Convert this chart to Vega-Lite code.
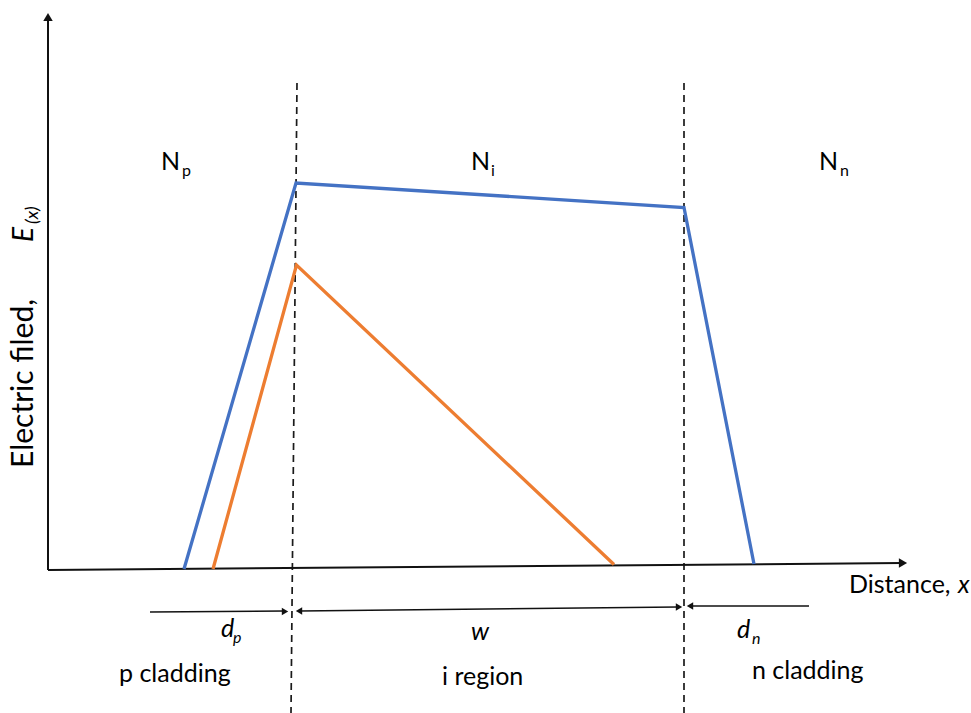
{
  "$schema": "https://vega.github.io/schema/vega-lite/v6.json",
  "width": 971,
  "height": 713,
  "padding": 0,
  "autosize": "none",
  "background": "white",
  "config": {"view": {"stroke": null}, "text": {"font": "Lato", "color": "black"}},
  "datasets": {
    "profiles": [
      {"curve": "high", "k": 0, "X": 136, "E": 1},
      {"curve": "high", "k": 1, "X": 248, "E": 387},
      {"curve": "high", "k": 2, "X": 636, "E": 362.5},
      {"curve": "high", "k": 3, "X": 706, "E": 6},
      {"curve": "low", "k": 0, "X": 165, "E": 1},
      {"curve": "low", "k": 1, "X": 248.5, "E": 305},
      {"curve": "low", "k": 2, "X": 566, "E": 5.5}
    ],
    "axes": [
      {"g": "distance", "k": 0, "X": 0, "E": 0},
      {"g": "distance", "k": 1, "X": 854, "E": 7},
      {"g": "field", "k": 0, "X": 0, "E": 0},
      {"g": "field", "k": 1, "X": 0, "E": 551}
    ],
    "spans": [
      {"g": "dp", "k": 0, "X": 102, "E": -42},
      {"g": "dp", "k": 1, "X": 236, "E": -41},
      {"g": "w", "k": 0, "X": 252, "E": -41},
      {"g": "w", "k": 1, "X": 630, "E": -37},
      {"g": "dn", "k": 0, "X": 642, "E": -36},
      {"g": "dn", "k": 1, "X": 761, "E": -36}
    ],
    "boundaries": [
      {"b": "p-i", "k": 0, "X": 249, "E": 487},
      {"b": "p-i", "k": 1, "X": 243, "E": -143},
      {"b": "i-n", "k": 0, "X": 636, "E": 487},
      {"b": "i-n", "k": 1, "X": 636, "E": -143}
    ],
    "heads": [
      {"X": 855, "E": 7, "dir": "right", "kind": "axis"},
      {"X": 0, "E": 553, "dir": "up", "kind": "axis"},
      {"X": 237, "E": -41.5, "dir": "right", "kind": "span"},
      {"X": 251, "E": -41, "dir": "left", "kind": "span"},
      {"X": 631, "E": -37, "dir": "right", "kind": "span"},
      {"X": 642, "E": -36, "dir": "left", "kind": "span"}
    ],
    "labels": [
      {"t": "N", "X": 113, "E": 400},
      {"t": "N", "X": 423, "E": 400},
      {"t": "N", "X": 771, "E": 400},
      {"t": "p cladding", "X": 71, "E": -112},
      {"t": "i region", "X": 394, "E": -115},
      {"t": "n cladding", "X": 704, "E": -109},
      {"t": "Distance,", "X": 801, "E": -23}
    ],
    "labelSubs": [
      {"t": "p", "X": 134, "E": 394},
      {"t": "i", "X": 443, "E": 394},
      {"t": "n", "X": 792, "E": 394}
    ],
    "symbols": [
      {"t": "d", "X": 173, "E": -67},
      {"t": "w", "X": 423, "E": -70},
      {"t": "d", "X": 689, "E": -68},
      {"t": "x", "X": 910, "E": -23}
    ],
    "symbolSubs": [
      {"t": "p", "X": 185, "E": -73},
      {"t": "n", "X": 704, "E": -74}
    ],
    "yTitle": [{"t": "Electric filed,", "X": -15, "E": 102}],
    "yTitleSymbol": [{"t": "E", "X": -15, "E": 328}],
    "yTitleSub": [{"t": "(x)", "X": -10, "E": 346}]
  },
  "encoding": {
    "x": {"field": "X", "type": "quantitative", "scale": {"domain": [-48, 923], "nice": false, "zero": false}, "axis": null},
    "y": {"field": "E", "type": "quantitative", "scale": {"domain": [-143, 570], "nice": false, "zero": false}, "axis": null}
  },
  "layer": [
    {
      "data": {"name": "boundaries"},
      "mark": {"type": "line", "color": "#1a1a1a", "strokeWidth": 1.7, "strokeDash": [7, 5]},
      "encoding": {"detail": {"field": "b"}, "order": {"field": "k"}}
    },
    {
      "data": {"name": "axes"},
      "mark": {"type": "line", "color": "#111111", "strokeWidth": 2},
      "encoding": {"detail": {"field": "g"}, "order": {"field": "k"}}
    },
    {
      "data": {"name": "spans"},
      "mark": {"type": "line", "color": "#111111", "strokeWidth": 1.5},
      "encoding": {"detail": {"field": "g"}, "order": {"field": "k"}}
    },
    {
      "data": {"name": "heads"},
      "mark": {"type": "point", "filled": true, "color": "#111111", "opacity": 1},
      "encoding": {
        "shape": {"field": "dir", "type": "nominal", "scale": {"domain": ["right", "left", "up"], "range": ["triangle-right", "triangle-left", "triangle-up"]}, "legend": null},
        "size": {"field": "kind", "type": "nominal", "scale": {"domain": ["axis", "span"], "range": [90, 55]}, "legend": null}
      }
    },
    {
      "data": {"name": "profiles"},
      "mark": {"type": "line", "strokeWidth": 3.3, "strokeJoin": "miter"},
      "encoding": {
        "color": {"field": "curve", "type": "nominal", "scale": {"domain": ["high", "low"], "range": ["#4472C4", "#ED7D31"]}, "legend": null},
        "order": {"field": "k"}
      }
    },
    {
      "data": {"name": "labels"},
      "mark": {"type": "text", "align": "left", "baseline": "alphabetic", "fontSize": 25},
      "encoding": {"text": {"field": "t"}}
    },
    {
      "data": {"name": "labelSubs"},
      "mark": {"type": "text", "align": "left", "baseline": "alphabetic", "fontSize": 16},
      "encoding": {"text": {"field": "t"}}
    },
    {
      "data": {"name": "symbols"},
      "mark": {"type": "text", "align": "left", "baseline": "alphabetic", "fontSize": 25, "fontStyle": "italic"},
      "encoding": {"text": {"field": "t"}}
    },
    {
      "data": {"name": "symbolSubs"},
      "mark": {"type": "text", "align": "left", "baseline": "alphabetic", "fontSize": 16, "fontStyle": "italic"},
      "encoding": {"text": {"field": "t"}}
    },
    {
      "data": {"name": "yTitle"},
      "mark": {"type": "text", "align": "left", "baseline": "alphabetic", "fontSize": 30, "angle": 270},
      "encoding": {"text": {"field": "t"}}
    },
    {
      "data": {"name": "yTitleSymbol"},
      "mark": {"type": "text", "align": "left", "baseline": "alphabetic", "fontSize": 28, "angle": 270, "fontStyle": "italic"},
      "encoding": {"text": {"field": "t"}}
    },
    {
      "data": {"name": "yTitleSub"},
      "mark": {"type": "text", "align": "left", "baseline": "alphabetic", "fontSize": 18, "angle": 270, "fontStyle": "italic"},
      "encoding": {"text": {"field": "t"}}
    }
  ]
}
